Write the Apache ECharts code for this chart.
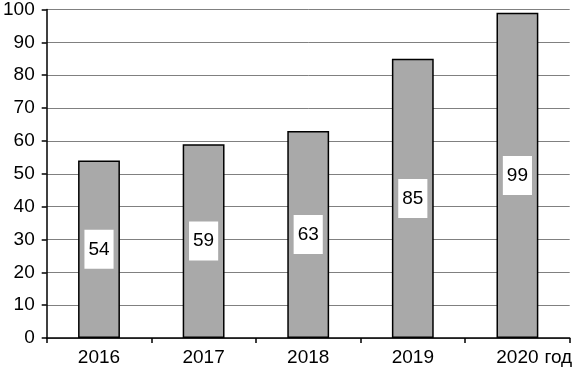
<!DOCTYPE html>
<html>
<head>
<meta charset="utf-8">
<script src="https://cdn.jsdelivr.net/npm/echarts@6/dist/echarts.min.js"></script>
<style>
  html, body { margin: 0; padding: 0; background: #fff; }
  #chart { width: 575px; height: 369px; }
</style>
</head>
<body>
<div id="chart"></div>
<script>
  // данные
  var years = ['2016', '2017', '2018', '2019', '2020'];
  var values = [54, 59, 63, 85, 99];
  var unitName = 'год';
  var yMin = 0, yMax = 100, yStep = 10;

  var font = 'Arial, "Liberation Sans", sans-serif';
  var myChart = echarts.init(document.getElementById('chart'));
  var option = {
    animation: false,
    grid: {
      left: 45,
      right: 5,
      top: 8,
      bottom: 31,
      containLabel: false
    },
    xAxis: {
      type: 'category',
      data: years,
      name: unitName,
      nameLocation: 'end',
      nameGap: -33,
      nameTextStyle: {
        color: '#000',
        fontSize: 19,
        fontFamily: font,
        verticalAlign: 'top',
        padding: [10, 0, 0, 0]
      },
      axisLine: {lineStyle: {color: '#000', width: 1.5}},
      axisTick: {show: true, length: 5, lineStyle: {color: '#000', width: 1.5}},
      axisLabel: {
        color: '#000',
        fontSize: 19,
        fontFamily: font,
        margin: 10
      }
    },
    yAxis: {
      type: 'value',
      min: yMin,
      max: yMax,
      interval: yStep,
      axisLine: {show: true, lineStyle: {color: '#000', width: 1.5}},
      axisTick: {show: true, length: 5, lineStyle: {color: '#000', width: 1.5}},
      splitLine: {
        show: true,
        lineStyle: {color: '#808080', width: 1}
      },
      axisLabel: {
        color: '#000',
        fontSize: 19,
        fontFamily: font,
        margin: 12
      }
    },
    series: [{
      type: 'bar',
      data: values,
      barWidth: '40%',
      itemStyle: {
        color: '#a9a9a9',
        borderColor: '#000',
        borderWidth: 1.5
      },
      label: {
        show: true,
        position: 'inside',
        color: '#000',
        fontSize: 19,
        fontFamily: font,
        backgroundColor: '#fff',
        padding: [10, 4]
      }
    }]
  };
  myChart.setOption(option);
</script>
</body>
</html>
